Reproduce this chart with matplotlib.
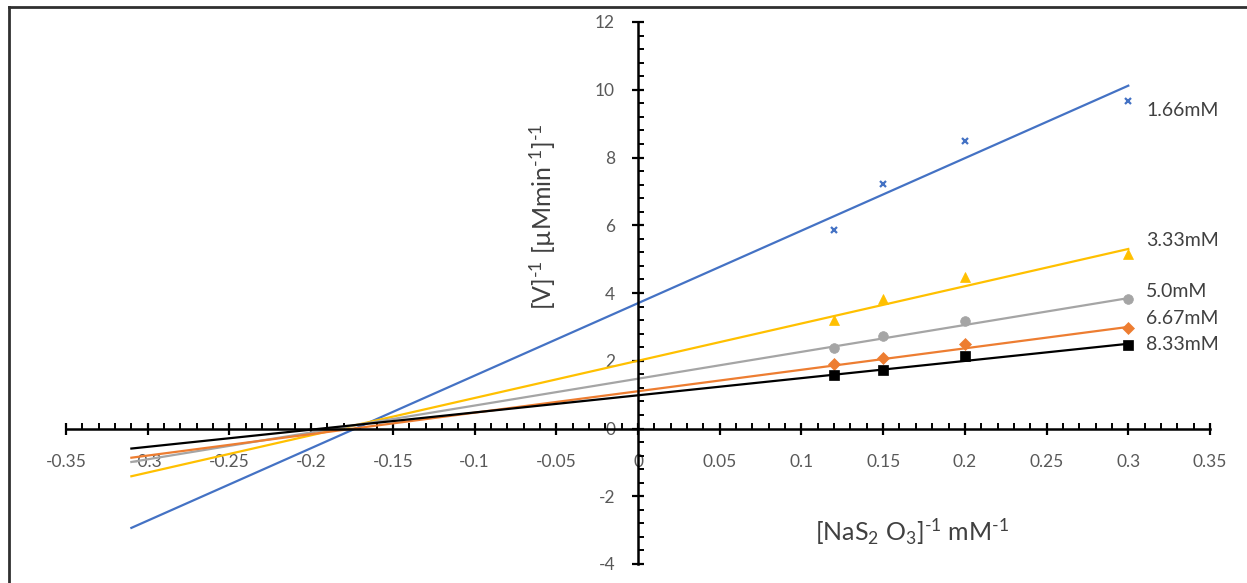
import numpy as np
import matplotlib
matplotlib.use("Agg")
import matplotlib.pyplot as plt
from matplotlib.ticker import MultipleLocator, FuncFormatter
from matplotlib.lines import Line2D

plt.rcParams['font.family'] = ['Lato', 'DejaVu Sans']
plt.rcParams['mathtext.fontset'] = 'custom'
plt.rcParams['mathtext.rm'] = 'Lato'
plt.rcParams['mathtext.it'] = 'Lato:italic'

# ---- data ----
inv_substrate = [0.12, 0.15, 0.2, 0.3]
series_labels = ["1.66mM", "3.33mM", "5.0mM", "6.67mM", "8.33mM"]
inv_v_166 = [5.85, 7.23, 8.50, 9.68]
inv_v_333 = [3.19, 3.83, 4.47, 5.16]
inv_v_500 = [2.38, 2.74, 3.17, 3.83]
inv_v_667 = [1.91, 2.09, 2.48, 2.97]
inv_v_833 = [1.59, 1.72, 2.15, 2.46]
# trendlines (intercept at x=0, slope)
trend_intercepts = [3.70, 2.00, 1.47, 1.10, 0.98]
trend_slopes = [21.4, 11.0, 7.93, 6.33, 5.07]
trend_x_range = [-0.31, 0.3]
label_y = [9.38, 5.55, 4.04, 3.24, 2.48]

# ---- styles ----
colors = ["#4472C4", "#FFC000", "#A5A5A5", "#ED7D31", "#000000"]
markers = ["x", "^", "o", "D", "s"]
msizes = [5, 7, 7, 6, 7]
all_series = [inv_v_166, inv_v_333, inv_v_500, inv_v_667, inv_v_833]

W, H = 1247, 583
fig = plt.figure(figsize=(W / 100, H / 100), dpi=100)
ax = fig.add_axes([66 / W, 1 - 564 / H, (1210 - 66) / W, (564 - 22) / H])

xl = np.array(trend_x_range)
for ys, b, m, c, mk, ms in zip(all_series, trend_intercepts, trend_slopes, colors, markers, msizes):
    ax.plot(xl, b + m * xl, color=c, lw=1.6, zorder=2)
    mew = 1.6 if mk == "x" else 0.5
    ax.plot(inv_substrate, ys, linestyle="none", marker=mk, color=c, markersize=ms,
            markeredgewidth=mew, zorder=3)

for lab, ly in zip(series_labels, label_y):
    ax.text(0.311, ly, lab, fontsize=14, color="#404040", ha="left", va="center")

ax.set_xlim(-0.35, 0.35)
ax.set_ylim(-4, 12)

for s in ["top", "right"]:
    ax.spines[s].set_visible(False)
ax.spines["left"].set_position(("data", 0))
ax.spines["bottom"].set_position(("data", 0))
ax.spines["left"].set_linewidth(1.8)
ax.spines["bottom"].set_linewidth(1.8)

ax.xaxis.set_major_locator(MultipleLocator(0.05))
ax.xaxis.set_minor_locator(MultipleLocator(0.01))
ax.yaxis.set_major_locator(MultipleLocator(2))
ax.yaxis.set_minor_locator(MultipleLocator(0.4))

fmt = FuncFormatter(lambda v, p: ("%g" % round(v, 4)) if abs(v) > 1e-9 else "0")
ax.xaxis.set_major_formatter(fmt)
ax.yaxis.set_major_formatter(fmt)

ax.tick_params(which="major", direction="inout", length=9, width=1.6, color="black",
               labelsize=12.5, labelcolor="#595959")
ax.tick_params(which="minor", direction="in", length=4, width=1.4, color="black")
ax.tick_params(axis="x", which="major", pad=14)
ax.tick_params(axis="y", which="major", pad=12)

fig.text(543 / W, 1 - 217 / H,
         r"[V]$^{\text{-1}}$ [µMmin$^{\text{-1}}$]$^{\text{-1}}$",
         rotation=90, ha="center", va="center", fontsize=18, color="#404040")
fig.text(912 / W, 1 - 532 / H,
         r"[NaS$_{\text{2}}$ O$_{\text{3}}$]$^{\text{-1}}$ mM$^{\text{-1}}$",
         ha="center", va="center", fontsize=18, color="#404040")

# outer chart frame (left and top edges)
fig.add_artist(Line2D([9 / W, 9 / W], [0, 1 - 7 / H], transform=fig.transFigure,
                      color="#303030", lw=2))
fig.add_artist(Line2D([9 / W, 1], [1 - 7 / H, 1 - 7 / H], transform=fig.transFigure,
                      color="#303030", lw=2))

fig.savefig("out.png", dpi=100)
